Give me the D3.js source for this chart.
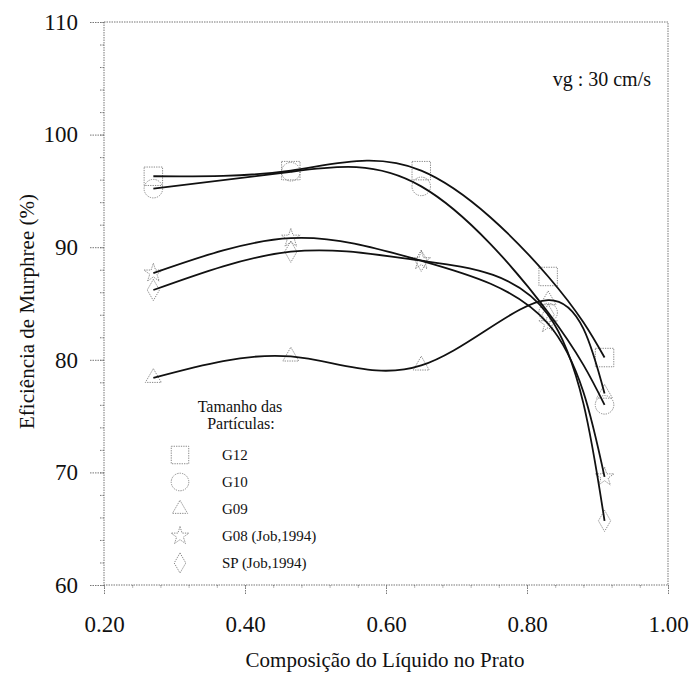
<!DOCTYPE html>
<html><head><meta charset="utf-8">
<script src="https://cdn.jsdelivr.net/npm/d3@7"></script>
<style>body{margin:0;background:#fff}svg{display:block}text{font-family:"Liberation Serif","DejaVu Serif",serif;fill:#111}</style>
</head><body><svg id="c" width="689" height="674"></svg>
<script>
const composicao = [0.27, 0.465, 0.65, 0.83, 0.91];
const g12 = [96.3, 96.8, 96.8, 87.4, 80.2];
const g10 = [95.2, 96.7, 95.4, 84.2, 76.0];
const g09 = [78.4, 80.3, 79.5, 85.3, 77.0];
const g08 = [87.7, 90.8, 88.8, 83.2, 69.6];
const sp  = [86.2, 89.6, 88.8, 84.0, 65.7];
const seriesNames = ["G12", "G10", "G09", "G08 (Job,1994)", "SP (Job,1994)"];
const xTicks = [0.20, 0.40, 0.60, 0.80, 1.00];
const yTicks = [60, 70, 80, 90, 100, 110];

const svg = d3.select("#c");
const x = d3.scaleLinear().domain([0.2, 1.0]).range([104, 668]);
const y = d3.scaleLinear().domain([60, 110]).range([585, 22]);
const frameStyle = s => s.attr("stroke", "#777").attr("stroke-width", 1).attr("stroke-dasharray", "1.5,1").attr("fill", "none");

// frame
svg.append("rect").attr("x", x(0.2)).attr("y", y(110)).attr("width", x(1) - x(0.2)).attr("height", y(60) - y(110)).call(frameStyle);

// x axis
const xAxis = svg.append("g").attr("transform", `translate(0,${y(60)})`);
xAxis.call(d3.axisBottom(x).tickValues(d3.range(0.2, 1.0001, 0.04)).tickSize(3).tickFormat(""));
xAxis.append("g").call(d3.axisBottom(x).tickValues(xTicks).tickSize(10).tickFormat(d3.format(".2f")));
xAxis.selectAll(".domain").remove();
xAxis.selectAll("line").attr("stroke", "#777").attr("stroke-dasharray", "1.5,1");
xAxis.selectAll("text").attr("font-size", 23).attr("y", 47).attr("dy", 0).attr("fill", "#111").style("font-family", "Liberation Serif");

// y axis
const yAxis = svg.append("g").attr("transform", `translate(${x(0.2)},0)`);
yAxis.call(d3.axisLeft(y).tickValues(d3.range(60, 110.001, 2)).tickSize(4).tickFormat(""));
yAxis.append("g").call(d3.axisLeft(y).tickValues(yTicks).tickSize(14).tickFormat(d3.format("d")));
yAxis.selectAll(".domain").remove();
yAxis.selectAll("line").attr("stroke", "#777").attr("stroke-dasharray", "1.5,1");
yAxis.selectAll("text").attr("font-size", 23).attr("x", -26).attr("fill", "#111").style("font-family", "Liberation Serif");

// titles
svg.append("text").attr("x", 385).attr("y", 667).attr("text-anchor", "middle").attr("font-size", 21).text("Composição do Líquido no Prato");
svg.append("text").attr("transform", `translate(34,${(y(60)+y(110))/2 + 8}) rotate(-90)`).attr("text-anchor", "middle").attr("font-size", 21).text("Eficiência de Murphree (%)");
svg.append("text").attr("x", 651).attr("y", 86).attr("text-anchor", "end").attr("font-size", 20).text("vg : 30 cm/s");

// series
const series = [
  {name: seriesNames[0], vals: g12, sym: d3.symbolSquare, size: 340},
  {name: seriesNames[1], vals: g10, sym: d3.symbolCircle, size: 270},
  {name: seriesNames[2], vals: g09, sym: d3.symbolTriangle, size: 110},
  {name: seriesNames[3], vals: g08, sym: d3.symbolStar, size: 110},
  {name: seriesNames[4], vals: sp, sym: d3.symbolDiamond, size: 130}
];
const line = d3.line().x(d => x(d[0])).y(d => y(d[1])).curve(d3.curveNatural);
const markStyle = s => s.attr("fill", "none").attr("stroke", "#888").attr("stroke-width", 1).attr("stroke-dasharray", "1.3,1.1");

series.forEach(s => {
  const pts = composicao.map((c, i) => [c, s.vals[i]]);
  svg.append("g").selectAll("path").data(pts).join("path")
    .attr("transform", d => `translate(${x(d[0])},${y(d[1])})`)
    .attr("d", d3.symbol(s.sym, s.size)).call(markStyle);
});
series.forEach(s => {
  const pts = composicao.map((c, i) => [c, s.vals[i]]);
  svg.append("path").datum(pts).attr("d", line).attr("fill", "none").attr("stroke", "#111").attr("stroke-width", 1.8);
});

// legend
const lg = svg.append("g");
lg.append("text").attr("x", 240).attr("y", 412).attr("text-anchor", "middle").attr("font-size", 16).text("Tamanho das");
lg.append("text").attr("x", 241).attr("y", 429).attr("text-anchor", "middle").attr("font-size", 16).text("Partículas:");
series.forEach((s, i) => {
  const yy = 455 + i * 27;
  lg.append("path").attr("transform", `translate(180,${yy})`).attr("d", d3.symbol(s.sym, s.size * 0.9)).call(markStyle);
  lg.append("text").attr("x", 222).attr("y", yy + 5).attr("font-size", 15).text(s.name);
});
</script></body></html>
